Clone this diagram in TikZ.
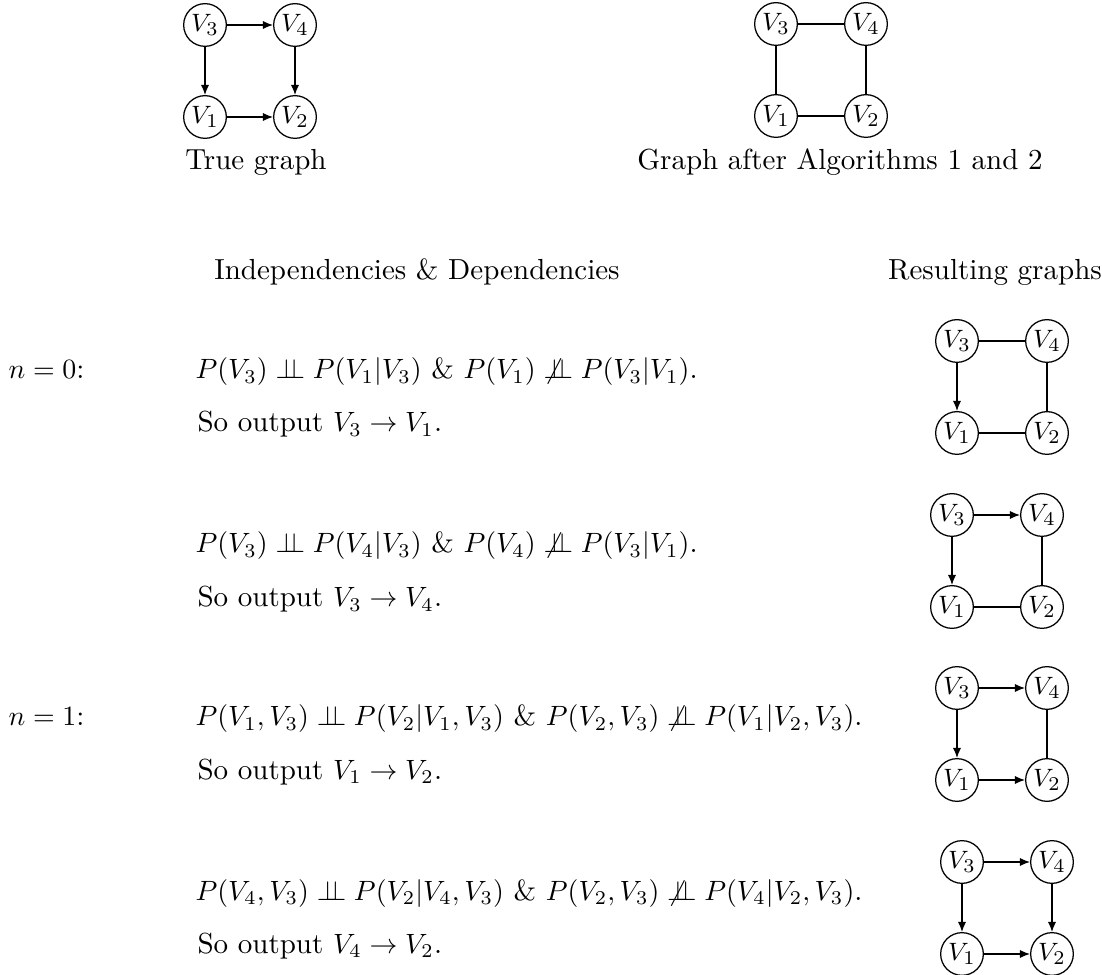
\documentclass[tikz,border=0pt]{standalone}
\usetikzlibrary{arrows.meta}
\tikzset{
  vnode/.style={circle,draw,line width=0.45pt,minimum size=15.3pt,inner sep=0pt,font=\fontsize{9.3}{11}\selectfont},
  arr/.style={-{Latex[length=3.6pt,width=2.9pt]},line width=0.45pt},
  und/.style={line width=0.45pt},
  txt/.style={inner sep=0pt,font=\fontsize{10.4}{12.5}\selectfont},
}
\newcommand{\mygraph}[7]{%
  \node[vnode] (#1v3) at (#2,#3) {$V_3$};
  \node[vnode] (#1v4) at ({#2+90},#3) {$V_4$};
  \node[vnode] (#1v1) at (#2,{#3+92}) {$V_1$};
  \node[vnode] (#1v2) at ({#2+90},{#3+92}) {$V_2$};
  \draw[#4] (#1v3) -- (#1v4);
  \draw[#5] (#1v3) -- (#1v1);
  \draw[#6] (#1v1) -- (#1v2);
  \draw[#7] (#1v4) -- (#1v2);
}
\newcommand{\indep}{\perp\!\!\!\perp}
\newcommand{\nindep}{\not\perp\!\!\!\perp}
\begin{document}
\begin{tikzpicture}[x=0.3584pt,y=-0.3584pt]
\useasboundingbox (0,0) rectangle (1102,975);
% top graphs
\mygraph{a}{205}{25}{arr}{arr}{arr}{arr}
\mygraph{b}{776}{24}{und}{und}{und}{und}
\node[txt,anchor=base] (cap1) at (256,170) {True graph};
\node[txt,anchor=base] (cap2) at (840,170) {Graph after Algorithms 1 and 2};
% headers
\node[txt,anchor=base] (h1) at (417,280) {Independencies \& Dependencies};
\node[txt,anchor=base] (h2) at (995,280) {Resulting graphs};
% rows
\node[txt,anchor=base west] (n0) at (8,379) {$n=0$:};
\node[txt,anchor=base west] (f1) at (195,379) {$P(V_3) \indep P(V_1|V_3)$ \& $P(V_1) \nindep P(V_3|V_1)$.};
\node[txt,anchor=base west] (s1) at (197,432) {So output $V_3 \to V_1$.};
\node[txt,anchor=base west] (f2) at (195,553) {$P(V_3) \indep P(V_4|V_3)$ \& $P(V_4) \nindep P(V_3|V_1)$.};
\node[txt,anchor=base west] (s2) at (197,607) {So output $V_3 \to V_4$.};
\node[txt,anchor=base west] (n1) at (8,726) {$n=1$:};
\node[txt,anchor=base west] (f3) at (195,726) {$P(V_1,V_3) \indep P(V_2|V_1,V_3)$ \& $P(V_2,V_3) \nindep P(V_1|V_2,V_3)$.};
\node[txt,anchor=base west] (s3) at (197,779) {So output $V_1 \to V_2$.};
\node[txt,anchor=base west] (f4) at (195,900) {$P(V_4,V_3) \indep P(V_2|V_4,V_3)$ \& $P(V_2,V_3) \nindep P(V_4|V_2,V_3)$.};
\node[txt,anchor=base west] (s4) at (197,953) {So output $V_4 \to V_2$.};
% resulting graphs
\mygraph{c}{957}{341}{und}{arr}{und}{und}
\mygraph{d}{952}{515}{arr}{arr}{und}{und}
\mygraph{e}{957}{688}{arr}{arr}{arr}{und}
\mygraph{f}{962}{862}{arr}{arr}{arr}{arr}
\end{tikzpicture}
\end{document}
